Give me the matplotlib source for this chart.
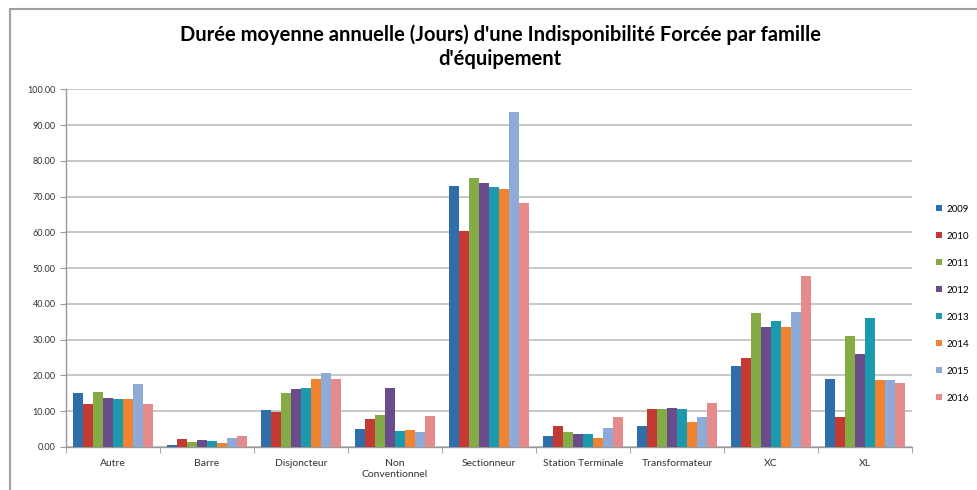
import numpy as np
import matplotlib.pyplot as plt
from matplotlib.patches import Rectangle

categories = ["Autre", "Barre", "Disjoncteur", "Non\nConventionnel", "Sectionneur",
              "Station Terminale", "Transformateur", "XC", "XL"]
years = ["2009", "2010", "2011", "2012", "2013", "2014", "2015", "2016"]

v2009 = [15.1, 0.6, 10.2, 5.0, 73.0, 3.0, 6.0, 22.6, 19.1]
v2010 = [11.9, 2.2, 9.7, 7.7, 60.4, 6.0, 10.5, 24.8, 8.5]
v2011 = [15.3, 1.4, 15.0, 8.9, 75.3, 4.2, 10.5, 37.4, 30.9]
v2012 = [13.8, 1.9, 16.1, 16.4, 73.7, 3.6, 10.9, 33.5, 26.0]
v2013 = [13.5, 1.7, 16.5, 4.4, 72.8, 3.5, 10.7, 35.2, 36.0]
v2014 = [13.3, 1.1, 19.1, 4.8, 72.1, 2.6, 7.1, 33.5, 18.8]
v2015 = [17.5, 2.6, 20.6, 4.1, 93.6, 5.2, 8.4, 37.8, 18.8]
v2016 = [11.9, 3.1, 19.1, 8.8, 68.3, 8.4, 12.2, 47.8, 17.9]
series = [v2009, v2010, v2011, v2012, v2013, v2014, v2015, v2016]

colors = ["#2f6ea8", "#c23a33", "#84ab45", "#6a4c8c", "#1b9aad",
          "#f08331", "#8eaad6", "#e68b8b"]

plt.rcParams['font.family'] = ['Lato', 'DejaVu Sans']

fig = plt.figure(figsize=(9.77, 4.90), dpi=100)
ax = fig.add_axes([0.0676, 0.0878, 0.866, 0.730])

x = np.arange(len(categories))
bw = 0.85 / len(series)
for i, (vals, col, yr) in enumerate(zip(series, colors, years)):
    ax.bar(x - 0.425 + bw * (i + 0.5), vals, width=bw, color=col, label=yr, zorder=3)

ax.set_xlim(-0.5, len(categories) - 0.5)
ax.set_ylim(0, 100)
ax.set_yticks(np.arange(0, 101, 10))
ax.set_yticklabels([f"{v:.2f}" for v in np.arange(0, 101, 10)])
ax.yaxis.grid(True, color="#c8c8c8", linewidth=1.4, zorder=0)
ax.set_xticks(x)
ax.set_xticklabels(categories)
ax.set_xticks(np.arange(-0.5, len(categories), 1), minor=True)
ax.tick_params(axis='x', which='major', length=0, labelsize=7.5, colors="#333333", pad=9)
ax.tick_params(axis='x', which='minor', length=4, color="#999999")
ax.tick_params(axis='y', length=4, color="#999999", labelsize=6.5, labelcolor="#333333")
for side in ["top", "right"]:
    ax.spines[side].set_visible(False)
for side in ["left", "bottom"]:
    ax.spines[side].set_color("#999999")
    ax.spines[side].set_linewidth(1.0)

fig.text(0.512, 0.930, "Durée moyenne annuelle (Jours) d'une Indisponibilité Forcée par famille",
         ha="center", va="center", fontsize=14.5, fontweight="bold")
fig.text(0.512, 0.880, "d'équipement", ha="center", va="center", fontsize=14.5, fontweight="bold")

leg = fig.legend(loc="upper left", bbox_to_anchor=(0.953, 0.592), frameon=False,
                 fontsize=7, handlelength=0.6, handleheight=0.6, handletextpad=0.5,
                 labelspacing=1.85, borderpad=0)

# chart frame
fig.patches.append(Rectangle((10 / 977, -0.1), 1.2, 1 - 9 / 490 + 0.1,
                             transform=fig.transFigure, fill=False,
                             edgecolor="#a0a0a0", linewidth=1.5))

fig.savefig("out.png", dpi=100)
